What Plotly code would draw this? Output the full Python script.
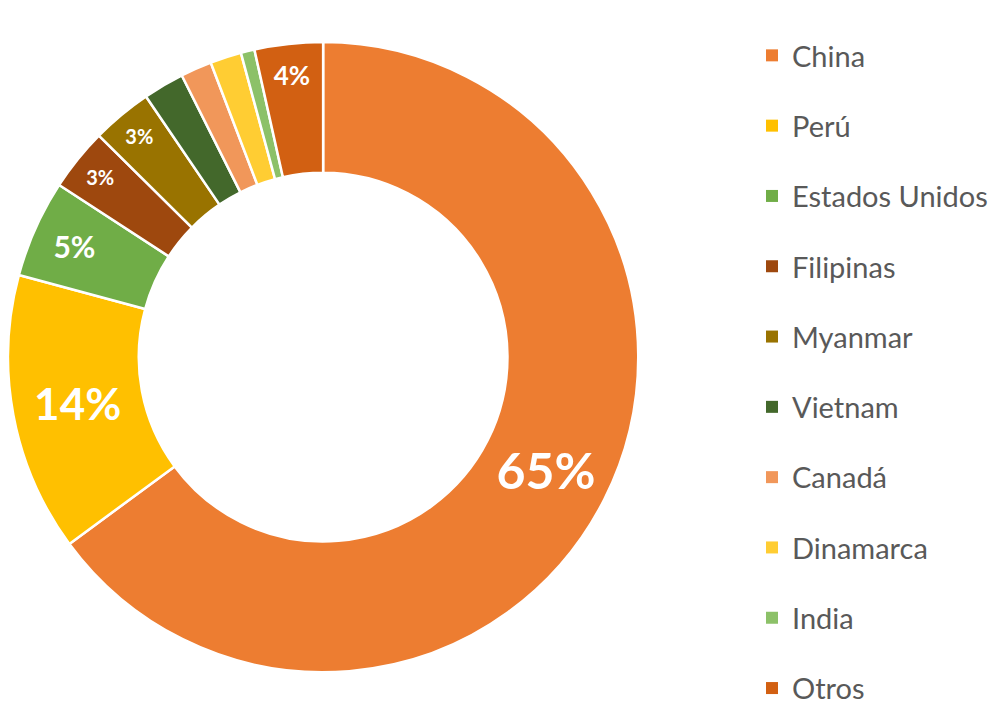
import plotly.graph_objects as go

labels = ["China", "Perú", "Estados Unidos", "Filipinas", "Myanmar",
          "Vietnam", "Canadá", "Dinamarca", "India", "Otros"]
values = [64.9, 14.3, 5.0, 3.2, 3.1, 2.1, 1.6, 1.6, 0.7, 3.5]
colors = ["#ED7D31", "#FFC000", "#70AD47", "#9E480E", "#997300",
          "#43682B", "#F1975A", "#FFCD33", "#8CC168", "#D26012"]
label_sizes = [50, 44, 30, 20, 20, 12, 12, 12, 12, 26]

total = sum(values)
texts = [f"{round(v / total * 100):.0f}%" if v >= 3 else "" for v in values]

fig = go.Figure()
fig.add_trace(go.Pie(
    labels=labels, values=values, sort=False, direction="clockwise",
    rotation=0, hole=0.585, text=texts, textinfo="text",
    textposition="inside", insidetextorientation="horizontal",
    textfont=dict(family="Lato", color="white", size=label_sizes, weight="bold"),
    marker=dict(colors=colors, line=dict(color="white", width=2.5)),
    domain=dict(x=[0.0, 0.629], y=[0.011, 1.0]),
    showlegend=False,
))

for lab, col in zip(labels, colors):
    fig.add_trace(go.Scatter(
        x=[None], y=[None], mode="markers", name=lab, legendgroup=lab,
        marker=dict(symbol="square", color=col, size=14),
        hoverinfo="skip",
    ))

fig.update_layout(
    width=1002, height=706,
    margin=dict(l=0, r=0, t=0, b=0),
    paper_bgcolor="white", plot_bgcolor="white",
    xaxis=dict(visible=False), yaxis=dict(visible=False),
    legend=dict(
        x=744 / 1002, xanchor="left", y=1 - 26 / 706, yanchor="top",
        font=dict(family="Lato", size=29, color="#595959"),
        tracegroupgap=29.6, traceorder="grouped",
        bgcolor="rgba(0,0,0,0)", itemsizing="constant",
    ),
)

fig.write_html("out.html")
